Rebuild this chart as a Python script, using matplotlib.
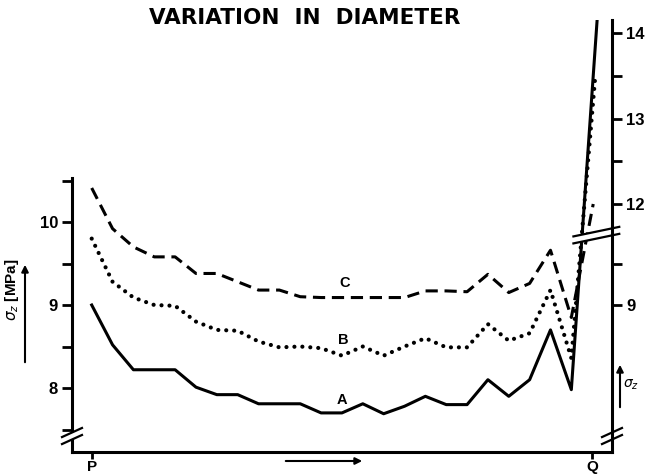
import matplotlib.pyplot as plt
from matplotlib.patches import Polygon

plt.rcParams['font.family'] = ['Liberation Sans', 'DejaVu Sans']

# positions along the specimen, P = 0 ... Q = 24
positions = list(range(24))

# sigma_z [MPa], left (lower) scale
curve_a = [9.00, 8.52, 8.22, 8.22, 8.22, 8.01, 7.92, 7.92, 7.81, 7.81, 7.81, 7.70,
           7.70, 7.81, 7.69, 7.78, 7.90, 7.80, 7.80, 8.10, 7.90, 8.10, 8.70, 7.98]
curve_b = [9.80, 9.28, 9.09, 9.00, 8.99, 8.80, 8.70, 8.69, 8.56, 8.49, 8.50, 8.48,
           8.39, 8.50, 8.39, 8.50, 8.60, 8.49, 8.49, 8.77, 8.57, 8.66, 9.18, 8.36]
curve_c = [10.41, 9.92, 9.70, 9.58, 9.58, 9.38, 9.38, 9.28, 9.18, 9.18, 9.10, 9.09,
           9.09, 9.09, 9.09, 9.09, 9.17, 9.17, 9.16, 9.37, 9.15, 9.26, 9.66, 8.85]

# last points, read on the upper right scale
end_x = [24.25, 24.15, 24.05]
end_val = [14.2, 13.5, 12.0]

curve_names = ['A', 'B', 'C']
right_low_ticks = [9]
right_up_ticks = [12, 13, 14]


def up2low(v):
    # upper right scale -> lower scale (12 sits where 10.22 would be)
    return 10.217 + (v - 12) * 1.03


def break_mark(ax, xc, yc, half_w):
    tr = ax.transAxes
    dx = half_w / 540.0
    dy = 5 / 432.0
    g = 3.5 / 432.0
    white = Polygon([(xc - dx, yc - dy - g), (xc + dx, yc + dy - g),
                     (xc + dx, yc + dy + g), (xc - dx, yc - dy + g)],
                    closed=True, transform=tr, facecolor='white', edgecolor='none',
                    clip_on=False, zorder=5)
    ax.add_patch(white)
    for s in (-g, g):
        ax.plot([xc - dx, xc + dx], [yc - dy + s, yc + dy + s], color='black', lw=1.6,
                transform=tr, clip_on=False, zorder=6, solid_capstyle='butt')


fig = plt.figure(figsize=(6.49, 4.75), dpi=100)
ax = fig.add_axes([72 / 649, 23 / 475, 540 / 649, 432 / 475])
ax.set_xlim(-0.945, 24.95)
ax.set_ylim(7.229, 12.434)

styles = [dict(ls='-', lw=2.2),
          dict(ls=(0, (0.01, 1.9)), lw=3.0, dash_capstyle='round'),
          dict(ls=(0, (4, 2.2)), lw=2.2, dash_capstyle='butt')]
for vals, ex, ev, st in zip([curve_a, curve_b, curve_c], end_x, end_val, styles):
    xs = positions + [ex]
    ys = vals + [up2low(ev)]
    ax.plot(xs, ys, color='black', zorder=3, **st)

ax.text(12.0, 7.86, 'A', fontsize=10.5, fontweight='bold', ha='center', va='center')
ax.text(12.05, 8.58, 'B', fontsize=10.5, fontweight='bold', ha='center', va='center')
ax.text(12.15, 9.27, 'C', fontsize=10.5, fontweight='bold', ha='center', va='center')

for side in ['top', 'right']:
    ax.spines[side].set_visible(False)
ax.spines['left'].set_bounds(7.229, 10.53)
ax.spines['left'].set_linewidth(2.2)
ax.spines['bottom'].set_linewidth(2.2)

ax.set_yticks([8, 9, 10])
ax.set_yticks([7.5, 8.5, 9.5, 10.5], minor=True)
ax.set_yticklabels(['8', '9', '10'], fontsize=12, fontweight='bold')
ax.tick_params(axis='y', which='both', direction='out', length=7, width=2, pad=3)
ax.set_xticks([0, 24])
ax.set_xticklabels(['P', 'Q'], fontsize=11, fontweight='bold')
ax.tick_params(axis='x', direction='out', length=5, width=2, pad=1)

ax2 = ax.twinx()
ax2.set_ylim(ax.get_ylim())
for side in ['top', 'left', 'bottom']:
    ax2.spines[side].set_visible(False)
ax2.spines['right'].set_linewidth(2.2)
ax2.set_yticks(right_low_ticks + [up2low(v) for v in right_up_ticks])
ax2.set_yticks([9.5] + [up2low(v) for v in (12.5, 13.5)], minor=True)
ax2.set_yticklabels([str(v) for v in right_low_ticks + right_up_ticks],
                    fontsize=12, fontweight='bold')
ax2.tick_params(axis='y', which='both', direction='out', length=7, width=2, pad=3)

break_mark(ax, 0.0, 0.037, 11)
break_mark(ax, 1.0, 0.037, 11)
break_mark(ax, 0.971, 0.502, 24)

fig.text(305 / 649, 1 - 18 / 475, 'VARIATION  IN  DIAMETER', fontsize=15.5,
         fontweight='bold', ha='center', va='center', family='DejaVu Sans')
fig.text(12 / 649, 1 - 290 / 475, r'$\sigma_z$ [MPa]', fontsize=11, fontweight='bold',
         rotation=90, ha='center', va='center')
fig.text(631 / 649, 1 - 385 / 475, r'$\sigma_z$', fontsize=10, ha='center', va='center')

arrow = dict(arrowstyle='-|>', color='black', lw=1.5, mutation_scale=10)
ax.annotate('', xy=(25, 475 - 262), xytext=(25, 475 - 365),
            xycoords='figure pixels', arrowprops=arrow)
ax.annotate('', xy=(620, 475 - 362), xytext=(620, 475 - 410),
            xycoords='figure pixels', arrowprops=arrow)
ax.annotate('', xy=(365, 475 - 461), xytext=(283, 475 - 461),
            xycoords='figure pixels', arrowprops=arrow)

fig.savefig('out.png', dpi=100)
